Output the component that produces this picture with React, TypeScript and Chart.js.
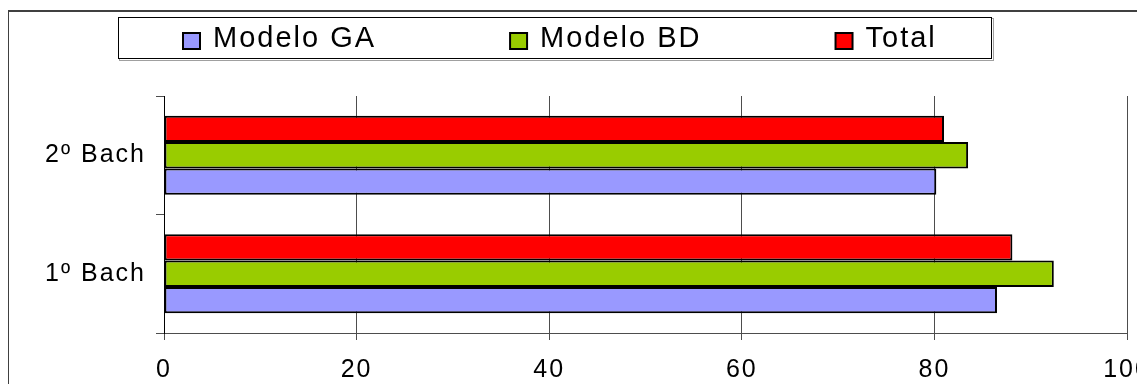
import React, { useEffect, useRef } from "react";
import { Chart, registerables } from "chart.js";

Chart.register(...registerables);

// ---- data ----
const categories = ["2º Bach", "1º Bach"];
const seriesNames = ["Modelo GA", "Modelo BD", "Total"];
const modeloGA = [80.2, 86.5];
const modeloBD = [83.5, 92.4];
const total = [81.0, 88.1];
const xTicks = [0, 20, 40, 60, 80, 100];

// ---- style ----
const seriesColors = ["#9999FF", "#99CC00", "#FF0000"];
const FONT = "'Liberation Sans', Arial, sans-serif";
const SPACING = "2px";
const GRID = "#4d4d4d";

const spacingPlugin = {
  id: "spacing",
  beforeUpdate(chart: any) {
    chart.ctx.letterSpacing = SPACING;
  },
  beforeDraw(chart: any) {
    chart.ctx.letterSpacing = SPACING;
  },
};

const boxLegendPlugin = {
  id: "boxLegend",
  afterDraw(chart: any) {
    const ctx = chart.ctx;
    ctx.save();
    ctx.letterSpacing = SPACING;
    // legend frame with light shadow
    ctx.strokeStyle = "#a0a0a0";
    ctx.lineWidth = 1;
    ctx.strokeRect(119.5, 18.5, 874, 42);
    ctx.fillStyle = "#ffffff";
    ctx.fillRect(118, 17, 874, 42);
    ctx.strokeStyle = "#000000";
    ctx.strokeRect(118.5, 17.5, 873, 41);

    ctx.font = `29px ${FONT}`;
    ctx.textBaseline = "alphabetic";
    ctx.textAlign = "left";
    let x = 183;
    const gap = 134;
    seriesNames.forEach((name, i) => {
      ctx.fillStyle = seriesColors[i];
      ctx.fillRect(x, 33, 17, 16);
      ctx.strokeStyle = "#000";
      ctx.lineWidth = 2;
      ctx.strokeRect(x, 33, 17, 16);
      ctx.fillStyle = "#000";
      ctx.fillText(name, x + 30, 47);
      x += 30 + ctx.measureText(name).width + gap;
    });
    ctx.restore();
  },
};

export default function App() {
  const ref = useRef<HTMLCanvasElement>(null);

  useEffect(() => {
    const canvas = ref.current!;
    const seriesData = [modeloGA, modeloBD, total];
    // top-to-bottom order inside each category: Total, Modelo BD, Modelo GA
    const datasets = [2, 1, 0].map((i) => ({
      label: seriesNames[i],
      data: seriesData[i],
      backgroundColor: seriesColors[i],
      borderColor: "#000000",
      borderWidth: 2,
      borderSkipped: false as const,
      categoryPercentage: 0.667,
      barPercentage: 1,
    }));

    const chart = new Chart(canvas, {
      type: "bar",
      data: { labels: categories, datasets },
      options: {
        indexAxis: "y",
        responsive: false,
        animation: false,
        devicePixelRatio: 1,
        layout: { padding: { top: 96, right: 33, bottom: 0, left: 0 } },
        plugins: {
          legend: { display: false },
          tooltip: { enabled: false },
        },
        scales: {
          x: {
            type: "linear",
            min: 0,
            max: 100,
            afterBuildTicks: (s: any) => {
              s.ticks = xTicks.map((v) => ({ value: v }));
            },
            afterFit: (s: any) => {
              s.height = 59;
              s.paddingLeft = 0;
              s.paddingRight = 0;
            },
            ticks: {
              color: "#000",
              font: { family: FONT, size: 25 },
              padding: 15,
              maxRotation: 0,
              autoSkip: false,
            },
            grid: { color: GRID, lineWidth: 1, tickLength: 7, drawTicks: true },
            border: { display: true, color: GRID, width: 1 },
          },
          y: {
            type: "category",
            afterFit: (s: any) => {
              s.width = 164;
              s.paddingTop = 0;
              s.paddingBottom = 0;
            },
            ticks: {
              color: "#000",
              font: { family: FONT, size: 25 },
              padding: 10,
            },
            grid: {
              offset: true,
              drawOnChartArea: false,
              tickLength: 8,
              color: GRID,
            },
            border: { display: true, color: "#000", width: 1 },
          },
        },
      },
      plugins: [spacingPlugin, boxLegendPlugin],
    });
    return () => chart.destroy();
  }, []);

  return (
    <div
      style={{
        position: "relative",
        width: 1145,
        height: 392,
        margin: -8,
        overflow: "hidden",
        background: "#ffffff",
      }}
    >
      <div
        style={{
          position: "absolute",
          left: 7,
          top: 10,
          width: 1300,
          height: 600,
          border: "2px solid #404040",
        }}
      />
      <canvas
        ref={ref}
        width={1160}
        height={392}
        style={{ position: "absolute", left: 0, top: 0, display: "block" }}
      />
    </div>
  );
}
